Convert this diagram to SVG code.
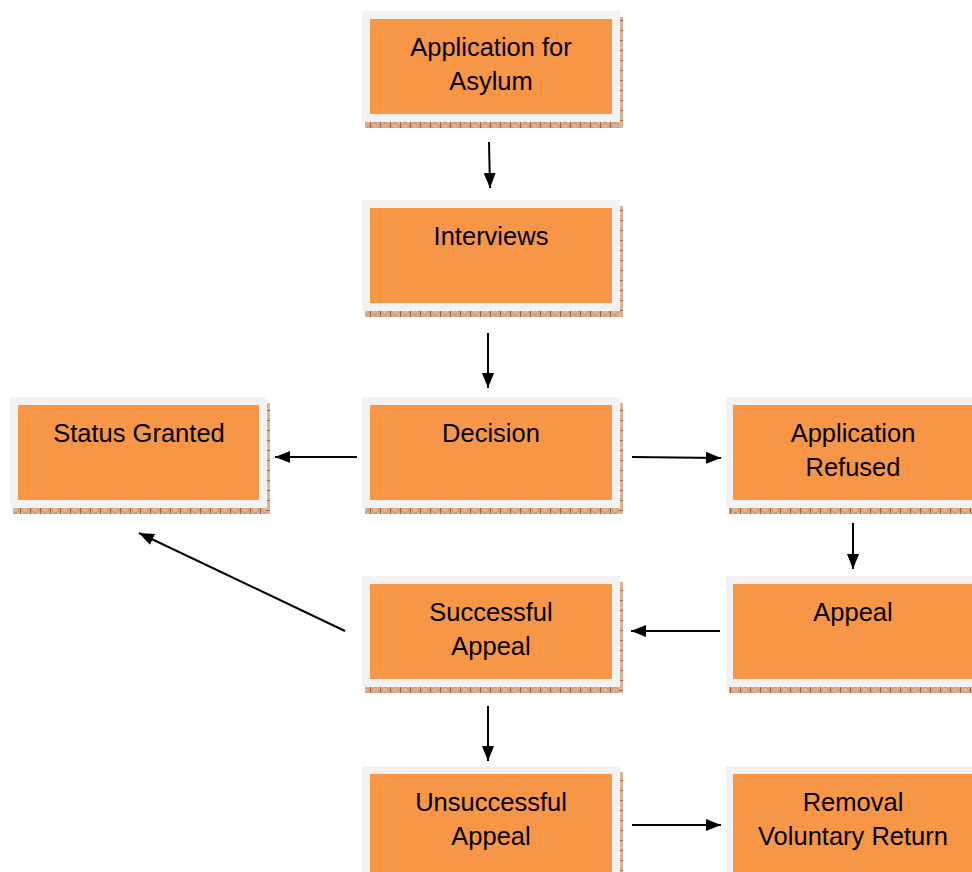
<svg xmlns="http://www.w3.org/2000/svg" width="972" height="872" viewBox="0 0 972 872">
<defs>
<pattern id="hb" width="10" height="6" patternUnits="userSpaceOnUse">
<rect width="10" height="6" fill="#dcb394"/>
<path d="M0 0L10 6M0 6L10 0" stroke="#c48e68" stroke-width="0.7"/>
<rect x="0" y="0" width="1" height="6" fill="#a0603a"/>
</pattern>
<pattern id="vb" width="4" height="10" patternUnits="userSpaceOnUse">
<rect width="4" height="10" fill="#dcb394"/>
<rect x="0" y="0" width="4" height="1" fill="#a0603a"/>
</pattern>
<marker id="ah" viewBox="0 0 15 12" refX="15" refY="6" markerWidth="15" markerHeight="12" markerUnits="userSpaceOnUse" orient="auto">
<path d="M0 0L15 6L0 12Z" fill="#000"/>
</marker>
</defs>
<style>
.frame{fill:#f2f2f2}
.box{fill:#f79646}
.sb{fill:url(#hb)}
.sr{fill:url(#vb)}
.t{font-family:"Liberation Sans",Arial,sans-serif;font-size:25.5px;fill:#000;text-anchor:middle}
.c line{stroke:#000;stroke-width:2;marker-end:url(#ah)}
</style>
<rect width="972" height="872" fill="#fff"/>
<g id="n1">
<rect class="sb" x="365" y="122" width="258" height="6"/><rect class="sr" x="619" y="17" width="4" height="111"/>
<rect class="frame" x="362" y="11" width="258" height="111"/><rect class="box" x="370" y="19" width="242" height="95"/>
<text class="t" x="491" y="56">Application for</text><text class="t" x="491" y="90">Asylum</text>
</g>
<g id="n2">
<rect class="sb" x="365" y="311" width="258" height="6"/><rect class="sr" x="619" y="206" width="4" height="111"/>
<rect class="frame" x="362" y="200" width="258" height="111"/><rect class="box" x="370" y="208" width="242" height="95"/>
<text class="t" x="491" y="245">Interviews</text>
</g>
<g id="n3">
<rect class="sb" x="365" y="508" width="258" height="6"/><rect class="sr" x="619" y="403" width="4" height="111"/>
<rect class="frame" x="362" y="397" width="258" height="111"/><rect class="box" x="370" y="405" width="242" height="95"/>
<text class="t" x="491" y="442">Decision</text>
</g>
<g id="n4">
<rect class="sb" x="13" y="508" width="257" height="6"/><rect class="sr" x="266" y="403" width="4" height="111"/>
<rect class="frame" x="10" y="397" width="257" height="111"/><rect class="box" x="18" y="405" width="241" height="95"/>
<text class="t" x="139" y="442">Status Granted</text>
</g>
<g id="n5">
<rect class="sb" x="729" y="508" width="250" height="6"/>
<rect class="frame" x="726" y="397" width="250" height="111"/><rect class="box" x="733" y="405" width="245" height="95"/>
<text class="t" x="853" y="442">Application</text><text class="t" x="853" y="476">Refused</text>
</g>
<g id="n6">
<rect class="sb" x="729" y="687" width="250" height="6"/>
<rect class="frame" x="726" y="576" width="250" height="111"/><rect class="box" x="733" y="584" width="245" height="95"/>
<text class="t" x="853" y="621">Appeal</text>
</g>
<g id="n7">
<rect class="sb" x="365" y="687" width="258" height="6"/><rect class="sr" x="619" y="582" width="4" height="111"/>
<rect class="frame" x="362" y="576" width="258" height="111"/><rect class="box" x="370" y="584" width="242" height="95"/>
<text class="t" x="491" y="621">Successful</text><text class="t" x="491" y="655">Appeal</text>
</g>
<g id="n8">
<rect class="sr" x="619" y="772" width="4" height="100"/>
<rect class="frame" x="362" y="766" width="258" height="111"/><rect class="box" x="370" y="774" width="242" height="98"/>
<text class="t" x="491" y="811">Unsuccessful</text><text class="t" x="491" y="845">Appeal</text>
</g>
<g id="n9">
<rect class="frame" x="726" y="766" width="250" height="111"/><rect class="box" x="733" y="774" width="245" height="98"/>
<text class="t" x="853" y="811">Removal</text><text class="t" x="853" y="845">Voluntary Return</text>
</g>
<g class="c" id="connectors">
<line x1="489" y1="142" x2="490" y2="188"/>
<line x1="488" y1="333" x2="488" y2="388"/>
<line x1="357" y1="457" x2="275" y2="457"/>
<line x1="632" y1="457" x2="721" y2="458"/>
<line x1="853" y1="523" x2="853" y2="569"/>
<line x1="720" y1="631" x2="631" y2="631"/>
<line x1="345" y1="631" x2="139" y2="533"/>
<line x1="488" y1="706" x2="488" y2="761"/>
<line x1="632" y1="825" x2="721" y2="825"/>
</g>
</svg>
